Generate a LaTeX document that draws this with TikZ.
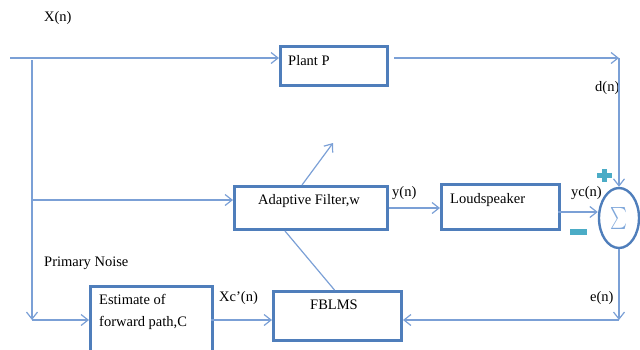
\documentclass[tikz,border=0pt]{standalone}
\usepackage{fontspec}
\setmainfont{Liberation Serif}
\usetikzlibrary{arrows.meta,positioning,shapes.geometric}
\definecolor{boxblue}{HTML}{4F7EBB}
\definecolor{lineblue}{HTML}{7BA0D6}
\definecolor{signteal}{HTML}{4BACC6}
\definecolor{sigmablue}{HTML}{7FA7DA}
\tikzset{blk/.style={draw=boxblue,line width=3pt,anchor=north west,inner sep=0pt},
	lbl/.style={inner sep=0pt,font=\fontsize{14.5}{22}\selectfont},
	sig/.style={draw=lineblue,line width=1.2pt,-{Straight Barb[length=7pt,width=11pt]}},
	wire/.style={draw=lineblue,line width=1.2pt}}

\begin{document}
\begin{tikzpicture}[x=1pt,y=-1pt]
\useasboundingbox (0,0) rectangle (640,349);
\node [blk,minimum width=107pt,minimum height=39pt] (plant) at (279,45) {};
\node [blk,minimum width=153pt,minimum height=43pt] (adapt) at (233,185) {};
\node [blk,minimum width=118pt,minimum height=45pt] (spk) at (440,183) {};
\node [blk,minimum width=128pt,minimum height=49pt] (fblms) at (272,290) {};
\node [blk,minimum width=122pt,minimum height=67pt] (est) at (89,285) {};
\node [draw=boxblue,line width=2.4pt,ellipse,inner sep=0pt,
  minimum width=40pt,minimum height=60pt] (sum) at (619,218)
  {\color{sigmablue}\scalebox{1.6}[2.2]{$\sum$}};

\node [lbl,anchor=west] (plantlbl) at (288,61) {Plant P};
\node [lbl] (adaptlbl) at (309,201) {Adaptive Filter,w};
\node [lbl,anchor=west] (spklbl) at (450,200) {Loudspeaker};
\node [lbl] (fblmslbl) at (334,305) {FBLMS};
\node [lbl,anchor=north west,align=left] (estlbl) at (99,294) {Estimate of\\forward path,C};

\node [lbl,anchor=west] (xlbl) at (44,18) {X(n)};
\node [lbl,anchor=west] (dlbl) at (595,88) {d(n)};
\node [lbl,anchor=west] (ylbl) at (392,193) {y(n)};
\node [lbl,anchor=west] (yclbl) at (571,193) {yc(n)};
\node [lbl,anchor=west] (xclbl) at (219,298) {Xc’(n)};
\node [lbl,anchor=west] (elbl) at (590,298) {e(n)};
\node [lbl,anchor=west] (pnlbl) at (44,263) {Primary Noise};

\coordinate (src) at (10,58);
\coordinate (tap) at (32,60);
\coordinate (tapf) at (32,200);
\coordinate (tapc) at (32,320);
\coordinate (pout) at (394,58);
\coordinate (dturn) at (619,58);
\coordinate (spkout) at (558,212);
\coordinate (eturn) at (619,320);
\coordinate (xcout) at (211,320);
\coordinate (wout) at (333,143);

\draw [sig] (src) -- (src -| plant.west);
\draw [sig] (tap) -- (tapc);
\draw [sig] (tapf) -- (tapf -| adapt.west);
\draw [sig] (tapc) -- (tapc -| est.west);
\draw [sig] (pout) -- (dturn);
\draw [sig] (dturn) -- (sum.north);
\draw [sig] (adapt.east) -- (adapt.east -| spk.west);
\draw [sig] (spkout) -- (spkout -| sum.west);
\draw [sig] (sum.south) -- (eturn);
\draw [sig] (eturn) -- (eturn -| fblms.east);
\draw [sig] (xcout) -- (xcout -| fblms.west);
\draw [wire] ([xshift=-3pt]fblms.north) -- ([xshift=52pt]adapt.south west);
\draw [sig] ([xshift=69pt]adapt.north west) -- (wout);

\fill [signteal] (597,173) rectangle (612,178);
\fill [signteal] (602,169) rectangle (607,182);
\fill [signteal] (570,229) rectangle (587,235);
\end{tikzpicture}
\end{document}
